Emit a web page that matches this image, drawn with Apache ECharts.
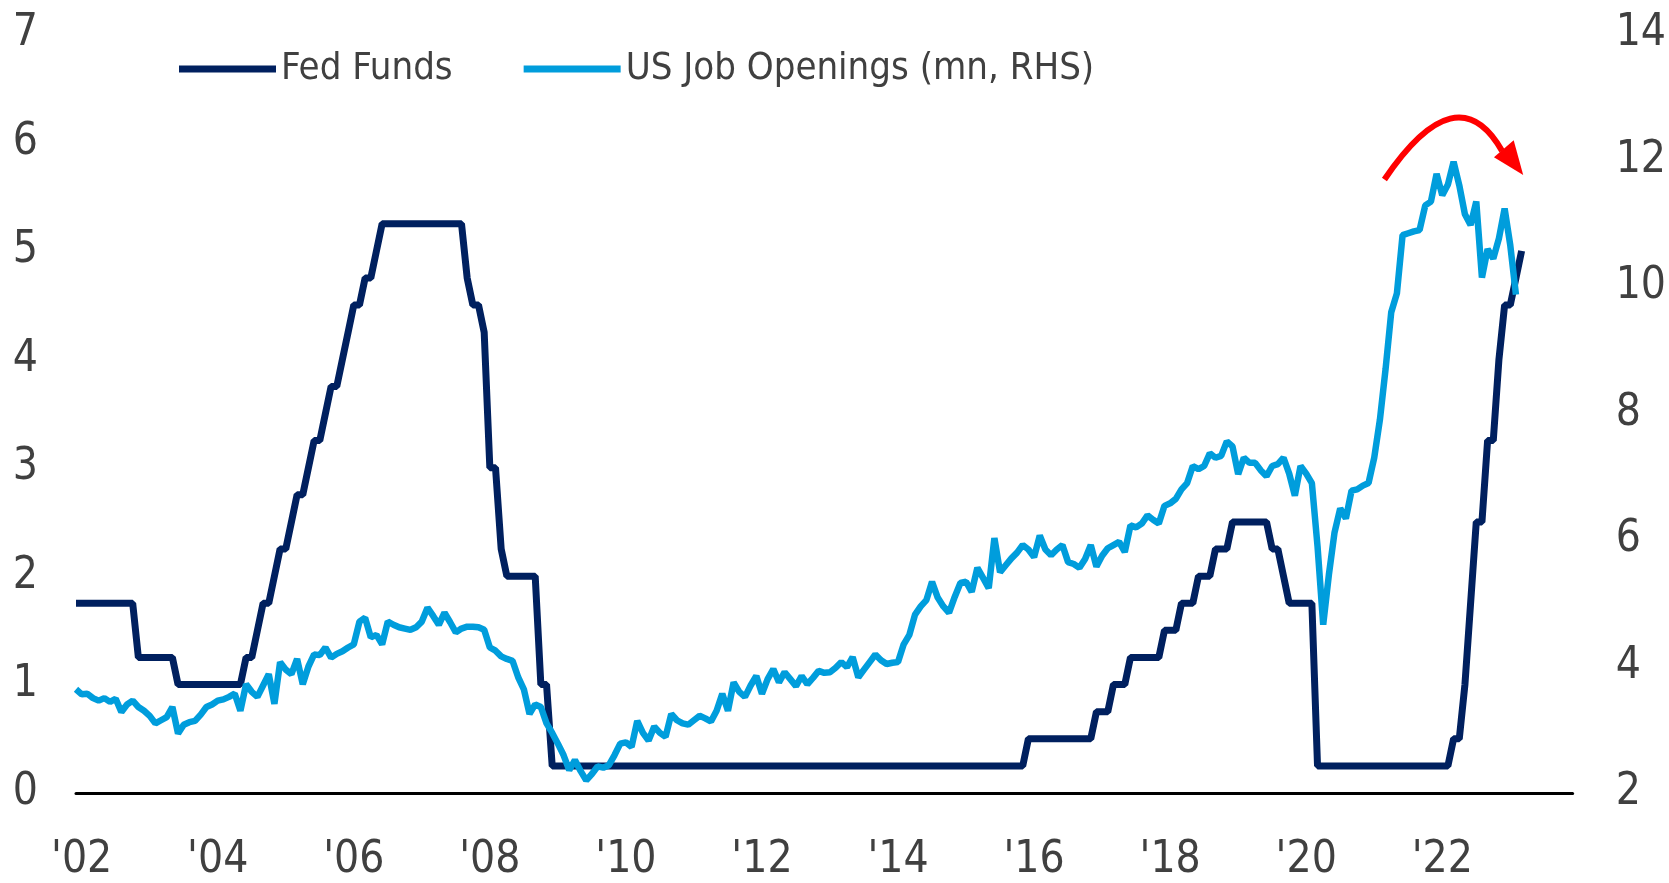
<!DOCTYPE html>
<html>
<head>
<meta charset="utf-8">
<script src="https://cdn.jsdelivr.net/npm/echarts@6/dist/echarts.min.js"></script>
<style>
  html, body { margin: 0; padding: 0; background: #fff; }
  #chartContainer { width: 1669px; height: 883px; }
</style>
</head>
<body>
<div id="chartContainer"></div>
<script>
// monthly series, first point = Dec 2001
var startYear = 2001;
var startMonth = 11; // 0-based, December

// fed funds target (upper bound), month end
var fedFunds = [
  1.75,
  1.75, 1.75, 1.75, 1.75, 1.75, 1.75, 1.75, 1.75, 1.75, 1.75, 1.25, 1.25,
  1.25, 1.25, 1.25, 1.25, 1.25, 1.00, 1.00, 1.00, 1.00, 1.00, 1.00, 1.00,
  1.00, 1.00, 1.00, 1.00, 1.00, 1.25, 1.25, 1.50, 1.75, 1.75, 2.00, 2.25,
  2.25, 2.50, 2.75, 2.75, 3.00, 3.25, 3.25, 3.50, 3.75, 3.75, 4.00, 4.25,
  4.50, 4.50, 4.75, 4.75, 5.00, 5.25, 5.25, 5.25, 5.25, 5.25, 5.25, 5.25,
  5.25, 5.25, 5.25, 5.25, 5.25, 5.25, 5.25, 5.25, 4.75, 4.50, 4.50, 4.25,
  3.00, 3.00, 2.25, 2.00, 2.00, 2.00, 2.00, 2.00, 2.00, 1.00, 1.00, 0.25,
  0.25, 0.25, 0.25, 0.25, 0.25, 0.25, 0.25, 0.25, 0.25, 0.25, 0.25, 0.25,
  0.25, 0.25, 0.25, 0.25, 0.25, 0.25, 0.25, 0.25, 0.25, 0.25, 0.25, 0.25,
  0.25, 0.25, 0.25, 0.25, 0.25, 0.25, 0.25, 0.25, 0.25, 0.25, 0.25, 0.25,
  0.25, 0.25, 0.25, 0.25, 0.25, 0.25, 0.25, 0.25, 0.25, 0.25, 0.25, 0.25,
  0.25, 0.25, 0.25, 0.25, 0.25, 0.25, 0.25, 0.25, 0.25, 0.25, 0.25, 0.25,
  0.25, 0.25, 0.25, 0.25, 0.25, 0.25, 0.25, 0.25, 0.25, 0.25, 0.25, 0.25,
  0.25, 0.25, 0.25, 0.25, 0.25, 0.25, 0.25, 0.25, 0.25, 0.25, 0.25, 0.50,
  0.50, 0.50, 0.50, 0.50, 0.50, 0.50, 0.50, 0.50, 0.50, 0.50, 0.50, 0.75,
  0.75, 0.75, 1.00, 1.00, 1.00, 1.25, 1.25, 1.25, 1.25, 1.25, 1.25, 1.50,
  1.50, 1.50, 1.75, 1.75, 1.75, 2.00, 2.00, 2.00, 2.25, 2.25, 2.25, 2.50,
  2.50, 2.50, 2.50, 2.50, 2.50, 2.50, 2.25, 2.25, 2.00, 1.75, 1.75, 1.75,
  1.75, 1.75, 0.25, 0.25, 0.25, 0.25, 0.25, 0.25, 0.25, 0.25, 0.25, 0.25,
  0.25, 0.25, 0.25, 0.25, 0.25, 0.25, 0.25, 0.25, 0.25, 0.25, 0.25, 0.25,
  0.25, 0.25, 0.50, 0.50, 1.00, 1.75, 2.50, 2.50, 3.25, 3.25, 4.00, 4.50,
  4.50, 4.75, 5.00
];

// US job openings, mn
var jobOpenings = [
  3.64,
  3.56, 3.57, 3.50, 3.46, 3.50, 3.44, 3.49, 3.28, 3.40, 3.46, 3.36, 3.30,
  3.22, 3.10, 3.15, 3.20, 3.36, 2.94, 3.08, 3.12, 3.14, 3.24, 3.36, 3.40,
  3.46, 3.48, 3.52, 3.57, 3.30, 3.72, 3.60, 3.52, 3.70, 3.88, 3.41, 4.07,
  3.95, 3.88, 4.12, 3.72, 4.00, 4.19, 4.18, 4.30, 4.14, 4.20, 4.24, 4.30,
  4.35, 4.71, 4.77, 4.46, 4.50, 4.35, 4.71, 4.66, 4.62, 4.60, 4.58, 4.62,
  4.71, 4.93, 4.80, 4.66, 4.85, 4.70, 4.54, 4.60, 4.63, 4.63, 4.62, 4.58,
  4.30, 4.25, 4.16, 4.12, 4.09, 3.83, 3.64, 3.25, 3.40, 3.36, 3.10, 2.95,
  2.78, 2.60, 2.36, 2.52, 2.35, 2.20, 2.30, 2.42, 2.40, 2.44, 2.60, 2.78,
  2.80, 2.73, 3.14, 2.95, 2.83, 3.05, 2.95, 2.89, 3.25, 3.15, 3.10, 3.08,
  3.15, 3.22, 3.18, 3.13, 3.30, 3.57, 3.30, 3.75, 3.60, 3.52, 3.70, 3.85,
  3.57, 3.80, 3.96, 3.75, 3.91, 3.80, 3.69, 3.85, 3.72, 3.82, 3.93, 3.90,
  3.91, 3.98, 4.07, 3.99, 4.15, 3.83, 3.95, 4.07, 4.19, 4.10, 4.04, 4.06,
  4.07, 4.35, 4.50, 4.82, 4.95, 5.05, 5.34, 5.09, 4.95, 4.85, 5.10, 5.32,
  5.34, 5.18, 5.56, 5.40, 5.24, 6.03, 5.49, 5.60, 5.71, 5.80, 5.92, 5.85,
  5.73, 6.07, 5.85, 5.76, 5.85, 5.92, 5.65, 5.62, 5.56, 5.70, 5.92, 5.58,
  5.75, 5.87, 5.92, 5.97, 5.81, 6.23, 6.20, 6.26, 6.39, 6.32, 6.26, 6.54,
  6.58, 6.65, 6.80, 6.90, 7.17, 7.12, 7.17, 7.37, 7.30, 7.33, 7.56, 7.48,
  7.04, 7.30, 7.22, 7.22, 7.10, 7.01, 7.17, 7.20, 7.30, 7.05, 6.70, 7.17,
  7.05, 6.90, 5.90, 4.66, 5.45, 6.12, 6.50, 6.34, 6.78, 6.80, 6.86, 6.90,
  7.30, 7.90, 8.70, 9.60, 9.90, 10.82, 10.85, 10.88, 10.90, 11.29, 11.35, 11.79,
  11.45, 11.62, 11.98, 11.61, 11.15, 10.98, 11.35, 10.15, 10.60, 10.45, 10.77, 11.24,
  10.66, 9.88
];

var xLabelYears = [2002, 2004, 2006, 2008, 2010, 2012, 2014, 2016, 2018, 2020, 2022];
var seriesNames = ['Fed Funds', 'US Job Openings (mn, RHS)'];

// red arrow annotation, in [year, RHS value]: start, control, end, then head
var arrowArc = [[2021.15, 11.70], [2022.22, 13.40], [2022.88, 12.15]];
var arrowHead = [[2022.76, 12.05], [2023.05, 12.32], [2023.19, 11.77]];

function toPairs(values) {
  return values.map(function (v, i) {
    return [startYear + (startMonth + i) / 12, v];
  });
}

var font = "'Liberation Sans Narrow', 'DejaVu Sans Condensed', sans-serif";
var textColor = '#404040';

var chart = echarts.init(document.getElementById('chartContainer'));

chart.setOption({
  animation: false,
  backgroundColor: '#fff',
  textStyle: { fontFamily: font },
  grid: { left: 76, right: 90, top: 34, bottom: 81 },
  legend: {
    left: 174,
    top: 45,
    itemWidth: 97,
    itemHeight: 7,
    itemGap: 71,
    icon: 'rect',
    data: seriesNames,
    textStyle: { fontSize: 38, color: textColor, fontFamily: font }
  },
  xAxis: {
    type: 'value',
    min: startYear + startMonth / 12,
    max: 2023 + 11 / 12,
    axisLine: { show: true, onZero: false, lineStyle: { color: '#000', width: 3 } },
    axisTick: { show: false },
    splitLine: { show: false },
    axisLabel: {
      customValues: xLabelYears,
      margin: 46,
      fontSize: 44,
      color: textColor,
      fontFamily: font,
      formatter: function (v) { return "'" + String(Math.round(v)).slice(2); }
    }
  },
  yAxis: [{
    type: 'value',
    min: 0,
    max: 7,
    interval: 1,
    position: 'left',
    axisLine: { show: false },
    axisTick: { show: false },
    splitLine: { show: false },
    axisLabel: { margin: 38, fontSize: 44, color: textColor, fontFamily: font }
  }, {
    type: 'value',
    min: 2,
    max: 14,
    interval: 2,
    position: 'right',
    axisLine: { show: false },
    axisTick: { show: false },
    splitLine: { show: false },
    axisLabel: { margin: 43, fontSize: 44, color: textColor, fontFamily: font }
  }],
  series: [{
    name: seriesNames[0],
    type: 'line',
    yAxisIndex: 0,
    showSymbol: false,
    symbol: 'none',
    color: '#00205f',
    lineStyle: { width: 7, color: '#00205f' },
    data: toPairs(fedFunds)
  }, {
    name: seriesNames[1],
    type: 'line',
    yAxisIndex: 1,
    showSymbol: false,
    symbol: 'none',
    color: '#009ddc',
    lineStyle: { width: 6.5, color: '#009ddc' },
    data: toPairs(jobOpenings)
  }]
});

function px(p) {
  return chart.convertToPixel({ xAxisIndex: 0, yAxisIndex: 1 }, p);
}

var a0 = px(arrowArc[0]), a1 = px(arrowArc[1]), a2 = px(arrowArc[2]);
chart.setOption({
  graphic: [{
    type: 'bezierCurve',
    shape: { x1: a0[0], y1: a0[1], cpx1: a1[0], cpy1: a1[1], x2: a2[0], y2: a2[1] },
    style: { stroke: '#ff0000', lineWidth: 6, fill: null },
    z: 100
  }, {
    type: 'polygon',
    shape: { points: arrowHead.map(px) },
    style: { fill: '#ff0000' },
    z: 100
  }]
});

window.addEventListener('resize', function () {
  chart.resize();
});
</script>
</body>
</html>
